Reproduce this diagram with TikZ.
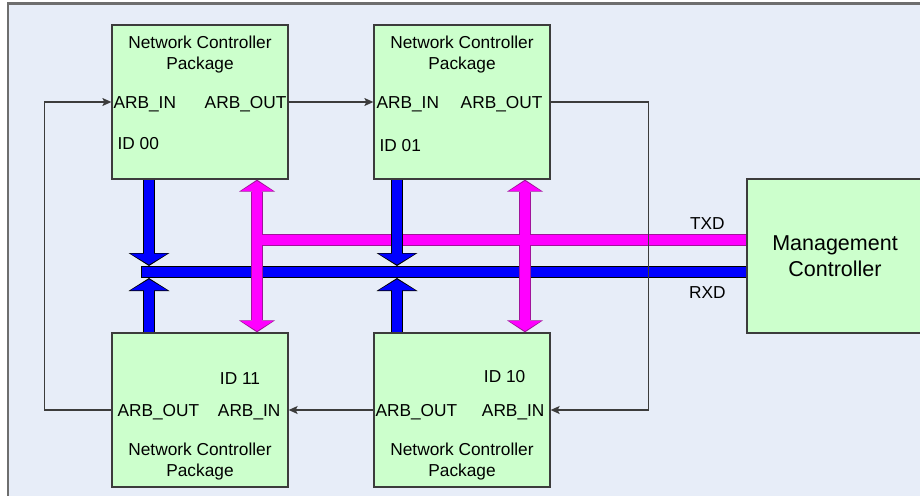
\documentclass[tikz,border=0pt]{standalone}
\usepackage{fontspec}
\setmainfont{Liberation Sans}
\usetikzlibrary{arrows.meta,positioning,calc}
\definecolor{ncgreen}{HTML}{CCFFCC}
\definecolor{ncback}{HTML}{E7EDF8}
\definecolor{ncframe}{HTML}{6E6E6E}
\definecolor{ncedge}{HTML}{3C3C3C}
\definecolor{ncblue}{HTML}{0000FF}
\definecolor{ncpink}{HTML}{FF00FF}
\definecolor{ncpinkedge}{HTML}{A0149A}

\begin{document}
\begin{tikzpicture}[x=1pt,y=-1pt,
  pkg/.style={draw=ncedge,line width=1.3pt,fill=ncgreen,minimum width=176pt,minimum height=154pt,inner sep=0pt},
  port/.style={inner sep=0pt,font=\fontsize{17.3}{20}\selectfont,text height=12pt,text depth=0pt},
  pkgtitle/.style={align=center,inner sep=0pt,font=\fontsize{17.3}{20.5}\selectfont},
  link/.style={-{Stealth[length=9pt,width=8pt,inset=2pt]},line width=1.1pt,draw=ncedge},
  bluetipo/.tip={Triangle[width=41pt,length=13pt,line width=0pt]},
  bluetipi/.tip={Triangle[width=37pt,length=11pt,line width=0pt]},
  pinktipo/.tip={Triangle[width=36pt,length=12pt,line width=0pt]},
  pinktipi/.tip={Triangle[width=32pt,length=10pt,line width=0pt]},
  bluerim/.style={line width=12pt,draw=black},
  bluecore/.style={line width=9.4pt,draw=ncblue},
  pinkrim/.style={line width=12pt,draw=ncpinkedge},
  pinkcore/.style={line width=9.4pt,draw=ncpink}
]
\useasboundingbox (0,0) rectangle (920,495);
% backdrop and frame
\fill[white] (0,0) rectangle (920,495);
\fill[ncback] (8,3.5) rectangle (930,500);
\draw[ncframe,line width=2.4pt] (8,500) -- (8,3.5) -- (930,3.5);

% packages
\node[pkg] (pkgA) at (200,102) {};
\node[pkg] (pkgB) at (462,102) {};
\node[pkg] (pkgD) at (200,410) {};
\node[pkg] (pkgC) at (462,410) {};
\node[pkg,align=center,font=\fontsize{21.5}{26}\selectfont] (mgmt) at (835,256) {Management\\Controller};

% package texts
\node[pkgtitle] (ttlA) at ($(pkgA.north)+(0,30)$) {Network Controller\\Package};
\node[pkgtitle] (ttlB) at ($(pkgB.north)+(0,30)$) {Network Controller\\Package};
\node[pkgtitle] (ttlD) at ($(pkgD.south)+(0,-26)$) {Network Controller\\Package};
\node[pkgtitle] (ttlC) at ($(pkgC.south)+(0,-26)$) {Network Controller\\Package};

\node[port,anchor=west] (inA) at ($(pkgA.west)+(2,0)$) {ARB\_IN};
\node[port,anchor=east] (outA) at ($(pkgA.east)+(-2,0)$) {ARB\_OUT};
\node[port,anchor=west] (idA) at ($(inA.west)+(4,41)$) {ID 00};

\node[port,anchor=west] (inB) at ($(pkgB.west)+(3,0)$) {ARB\_IN};
\node[port,anchor=east] (outB) at ($(pkgB.east)+(-8,0)$) {ARB\_OUT};
\node[port,anchor=west] (idB) at ($(inB.west)+(3,43)$) {ID 01};

\node[port,anchor=west] (outD) at ($(pkgD.west)+(6,0)$) {ARB\_OUT};
\node[port,anchor=east] (inD) at ($(pkgD.east)+(-8,0)$) {ARB\_IN};
\node[port,anchor=west] (idD) at ($(inD.west)+(2,-32)$) {ID 11};

\node[port,anchor=west] (outC) at ($(pkgC.west)+(2,0)$) {ARB\_OUT};
\node[port,anchor=east] (inC) at ($(pkgC.east)+(-6,0)$) {ARB\_IN};
\node[port,anchor=west] (idC) at ($(inC.west)+(2,-34)$) {ID 10};

% bus points
\coordinate (busL) at (141,272);
\coordinate (rxA) at (149,272);
\coordinate (rxB) at (397,272);
\coordinate (txA) at (257,240);
\coordinate (txB) at (525,240);

\node[port] (txd) at ($(mgmt.west |- txA)+(-39,-17)$) {TXD};
\node[port] (rxd) at ($(mgmt.west |- rxA)+(-39,20)$) {RXD};

% RXD bus
\draw[bluerim] (busL) -- (mgmt.west |- busL);
\draw[bluecore,shorten <=1.3pt] (busL) -- (mgmt.west |- busL);

% TXD bus
\draw[pinkrim] (txA) -- (mgmt.west |- txA);
\draw[pinkrim,pinktipo-pinktipo] (pkgA.south -| txA) -- (pkgD.north -| txA);
\draw[pinkrim,pinktipo-pinktipo] (pkgB.south -| txB) -- (pkgC.north -| txB);
\draw[pinkcore] (txA) -- (mgmt.west |- txA);
\draw[pinkcore,pinktipi-pinktipi,shorten <=1.4pt,shorten >=1.4pt] (pkgA.south -| txA) -- (pkgD.north -| txA);
\draw[pinkcore,pinktipi-pinktipi,shorten <=1.4pt,shorten >=1.4pt] (pkgB.south -| txB) -- (pkgC.north -| txB);

% drops onto RXD bus
\draw[bluerim,-bluetipo] (pkgA.south -| rxA) -- ($(rxA)+(0,-6)$);
\draw[bluerim,-bluetipo] (pkgD.north -| rxA) -- ($(rxA)+(0,6)$);
\draw[bluerim,-bluetipo] (pkgB.south -| rxB) -- ($(rxB)+(0,-6)$);
\draw[bluerim,-bluetipo] (pkgC.north -| rxB) -- ($(rxB)+(0,6)$);
\draw[bluecore,-bluetipi,shorten >=1.4pt] (pkgA.south -| rxA) -- ($(rxA)+(0,-6)$);
\draw[bluecore,-bluetipi,shorten >=1.4pt] (pkgD.north -| rxA) -- ($(rxA)+(0,6)$);
\draw[bluecore,-bluetipi,shorten >=1.4pt] (pkgB.south -| rxB) -- ($(rxB)+(0,-6)$);
\draw[bluecore,-bluetipi,shorten >=1.4pt] (pkgC.north -| rxB) -- ($(rxB)+(0,6)$);

% arbitration ring
\draw[link] (pkgD.west) -- ++(-67,0) |- (pkgA.west);
\draw[link] (pkgA.east) -- (pkgB.west);
\draw[link] (pkgB.east) -- ++(98,0) |- (pkgC.east);
\draw[link] (pkgC.west) -- (pkgD.east);
\end{tikzpicture}
\end{document}
